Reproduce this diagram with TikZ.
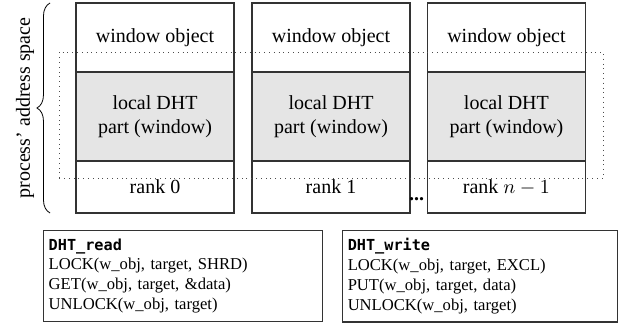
\documentclass[tikz,border=0pt]{standalone}
\usepackage{fontspec}
\setmainfont{Liberation Serif}
\newfontfamily\codefont{DejaVu Sans Mono}
\usepackage{tikz}
\usetikzlibrary{decorations.pathreplacing,positioning}

\begin{document}
\begin{tikzpicture}[scale=1,
		cell/.style={draw=black!80,line width=0.6pt,outer sep=0pt,inner sep=0pt,minimum width=2.78cm,align=center,font=\fontsize{10}{12}\selectfont},
		winbox/.style={cell,minimum height=1.21cm},
		partbox/.style={cell,fill=black!10,minimum height=1.565cm},
		rankbox/.style={cell,minimum height=0.913cm},
		codebox/.style={draw=black!80,line width=0.6pt,anchor=north west,align=left,inner xsep=0.09cm,inner ysep=4pt,font=\fontsize{8.3}{9.9}\selectfont}]
		\useasboundingbox (0,0) rectangle (10.896,5.659);
		\node[winbox] (win0) at (2.724,5.0) {window object};
		\node[partbox,below=0pt of win0] (part0) {local DHT\\part (window)};
		\node[rankbox,below=0pt of part0] (rank0) {rank 0};
		\node[winbox] (win1) at (5.817,5.0) {window object};
		\node[partbox,below=0pt of win1] (part1) {local DHT\\part (window)};
		\node[rankbox,below=0pt of part1] (rank1) {rank 1};
		\node[winbox] (win2) at (8.90,5.0) {window object};
		\node[partbox,below=0pt of win2] (part2) {local DHT\\part (window)};
		\node[rankbox,below=0pt of part2] (rank2) {rank $n-1$};
		\node[anchor=base,inner sep=0pt] (dots) at (7.32,2.127) {\textbf{...}};
		\draw[dotted,black!70] (1.037,2.531) rectangle (10.598,4.745);
		\draw[decorate,decoration={brace,amplitude=0.23cm}] (0.879,1.916) -- (0.879,5.606);
		\node[rotate=90,font=\fontsize{10}{12}\selectfont] (space) at (0.44,3.761) {process' address space};
		\node[codebox,text width=4.72cm] (read) at (0.756,1.617) {{\codefont\bfseries\fontsize{7.6}{9.9}\selectfont DHT\_read}\\LOCK(w\_obj, target, SHRD)\\GET(w\_obj, target, \&data)\\UNLOCK(w\_obj, target)};
		\node[codebox,text width=4.65cm] (write) at (6.011,1.617) {{\codefont\bfseries\fontsize{7.6}{9.9}\selectfont DHT\_write}\\LOCK(w\_obj, target, EXCL)\\PUT(w\_obj, target, data)\\UNLOCK(w\_obj, target)};
		\end{tikzpicture}
\end{document}
